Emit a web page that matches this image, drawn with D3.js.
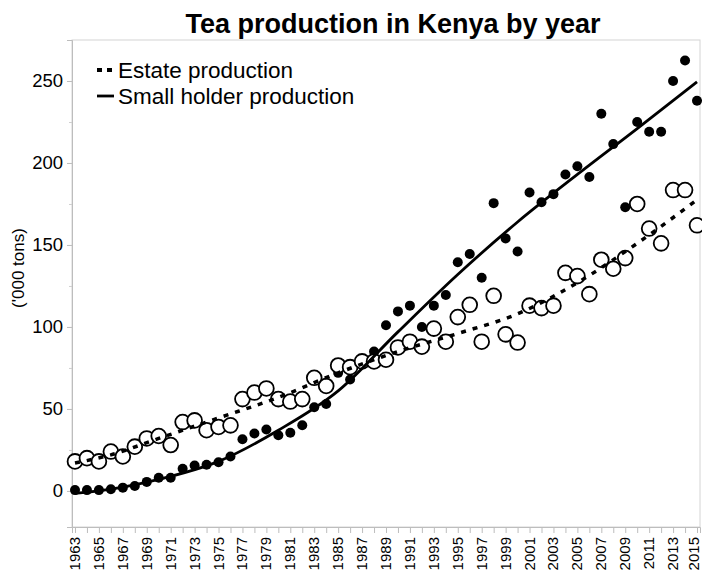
<!DOCTYPE html>
<html>
<head>
<meta charset="utf-8">
<script src="https://cdn.jsdelivr.net/npm/d3@7"></script>
<style>
  html, body { margin: 0; padding: 0; background: #fff; }
  svg { display: block; font-family: "Liberation Sans", Arial, Helvetica, sans-serif; }
</style>
</head>
<body>
<svg id="chart" width="702" height="576"></svg>
<script>
// Years covered by the series
const years = d3.range(1963, 2016);

// Estate production ('000 tons), one value per year 1963–2015
const estate = [
  18, 20, 18, 24, 21, 27, 32, 33.5, 28, 42,
  43, 37, 39, 40, 56, 60, 62.5, 56, 54.5, 56,
  69, 64, 76.5, 75.5, 79, 79, 80, 87.5, 91, 88,
  99, 91, 106, 113.5, 91, 119, 95.5, 90.5, 113, 111.5,
  113, 133, 131, 120, 141, 135.5, 142, 175, 160, 151,
  183.5, 183.5, 162
];

// Small holder production ('000 tons), one value per year 1963–2015
const smallholder = [
  0.5, 0.5, 0.5, 1, 2, 3, 5.5, 8, 8, 13.5,
  15.5, 16, 17.5, 21, 31.5, 35, 37.5, 34, 35.5, 40,
  51, 53, 72, 68, 78, 85, 101, 109.5, 113, 100,
  113, 119.5, 139.5, 144.5, 130, 175.5, 154, 146, 182, 176,
  181, 193, 198, 191.5, 230, 211.5, 173, 225, 219, 219,
  250, 262.5, 238
];

// Smoothed trends (year, value)
const estateTrendYears = [1963, 1966, 1970, 1975, 1980, 1985, 1990, 1995, 2000, 2005, 2010, 2015];
const estateTrend      = [17, 22, 32, 44.5, 57, 72, 85, 96, 108, 127, 151, 177.5];
const smallTrendYears  = [1963, 1965, 1970, 1975, 1980, 1985, 1990, 1995, 2000, 2005, 2010, 2015];
const smallTrend       = [-1.5, 0, 7, 18, 37, 61, 97, 132, 164, 193, 221, 249.5];

const yTicks = [0, 50, 100, 150, 200, 250];
const yMinorTicks = [25, 75, 125, 175, 225];
const xLabelYears = d3.range(1963, 2016, 2);

const title = "Tea production in Kenya by year";
const yLabel = "('000 tons)";
const legendLabels = ["Estate production", "Small holder production"];

const svg = d3.select("#chart");
const plot = { left: 72, right: 700, top: 40, bottom: 527 };

const x = d3.scaleLinear().domain([1962.75, 2015.25]).range([plot.left, plot.right]);
const y = d3.scaleLinear().domain([-22, 275]).range([plot.bottom, plot.top]);

// Title
svg.append("text")
  .attr("x", 393).attr("y", 33)
  .attr("text-anchor", "middle")
  .attr("font-size", 27).attr("font-weight", "bold")
  .text(title);

// Plot frame
svg.append("rect")
  .attr("x", plot.left).attr("y", plot.top)
  .attr("width", plot.right - plot.left).attr("height", plot.bottom - plot.top)
  .attr("fill", "none").attr("stroke", "#d4d4d4").attr("stroke-width", 1);

// Y axis
const yAxis = svg.append("g")
  .attr("transform", `translate(${plot.left},0)`)
  .call(d3.axisLeft(y).tickValues(yTicks).tickSize(5).tickPadding(4).tickFormat(d3.format("d")));
yAxis.select(".domain").attr("stroke", "#bdbdbd");
yAxis.selectAll(".tick line").attr("stroke", "#bdbdbd");
yAxis.selectAll(".tick text").attr("font-size", 18.5).attr("fill", "#000")
  .attr("font-family", "'Liberation Sans', Arial, sans-serif");
svg.append("g")
  .attr("transform", `translate(${plot.left},0)`)
  .call(d3.axisLeft(y).tickValues(yMinorTicks).tickSize(3).tickFormat(""))
  .call(g => g.select(".domain").remove())
  .selectAll(".tick line").attr("stroke", "#cfcfcf");

// Y axis title
svg.append("text")
  .attr("transform", `translate(24,268) rotate(-90)`)
  .attr("text-anchor", "middle")
  .attr("font-size", 17)
  .text(yLabel);

// X axis: a tick every year, a rotated label every second year
const xAxis = svg.append("g")
  .attr("transform", `translate(0,${plot.bottom})`)
  .call(d3.axisBottom(x).tickValues(years).tickSize(6)
    .tickFormat(d => xLabelYears.includes(d) ? String(d) : ""));
xAxis.select(".domain").attr("stroke", "#bdbdbd");
xAxis.selectAll(".tick line").attr("stroke", "#bdbdbd");
xAxis.selectAll(".tick text")
  .attr("font-size", 15).attr("fill", "#000")
  .attr("font-family", "'Liberation Sans', Arial, sans-serif")
  .attr("text-anchor", "end")
  // keep the last label inside the right edge
  .attr("dy", d => d === 2015 ? "0.08em" : "0.3em")
  .attr("transform", "rotate(-90)")
  .attr("x", -10).attr("y", 0);

// Points: small holder (filled) under estate (open)
svg.append("g").selectAll("circle")
  .data(years.map((yr, i) => [yr, smallholder[i]]))
  .join("circle")
  .attr("cx", d => x(d[0])).attr("cy", d => y(d[1]))
  .attr("r", 5).attr("fill", "#000");

svg.append("g").selectAll("circle")
  .data(years.map((yr, i) => [yr, estate[i]]))
  .join("circle")
  .attr("cx", d => x(d[0])).attr("cy", d => y(d[1]))
  .attr("r", 7.4).attr("fill", "#fff").attr("stroke", "#000").attr("stroke-width", 1.8);

// Trend lines
const line = d3.line().x(d => x(d[0])).y(d => y(d[1])).curve(d3.curveMonotoneX);
svg.append("path")
  .datum(smallTrendYears.map((yr, i) => [yr, smallTrend[i]]))
  .attr("d", line)
  .attr("fill", "none").attr("stroke", "#000").attr("stroke-width", 2.8);
svg.append("path")
  .datum(estateTrendYears.map((yr, i) => [yr, estateTrend[i]]))
  .attr("d", line)
  .attr("fill", "none").attr("stroke", "#000").attr("stroke-width", 3.5)
  .attr("stroke-dasharray", "5,7");

// Legend
const legend = svg.append("g");
legend.append("line").attr("x1", 97).attr("x2", 114).attr("y1", 70).attr("y2", 70)
  .attr("stroke", "#000").attr("stroke-width", 4).attr("stroke-dasharray", "5,5");
legend.append("line").attr("x1", 97).attr("x2", 114).attr("y1", 96).attr("y2", 96)
  .attr("stroke", "#000").attr("stroke-width", 2.8);
legend.selectAll("text").data(legendLabels).join("text")
  .attr("x", 118).attr("y", (d, i) => 78 + i * 26)
  .attr("font-size", 22.5)
  .text(d => d);
</script>
</body>
</html>
